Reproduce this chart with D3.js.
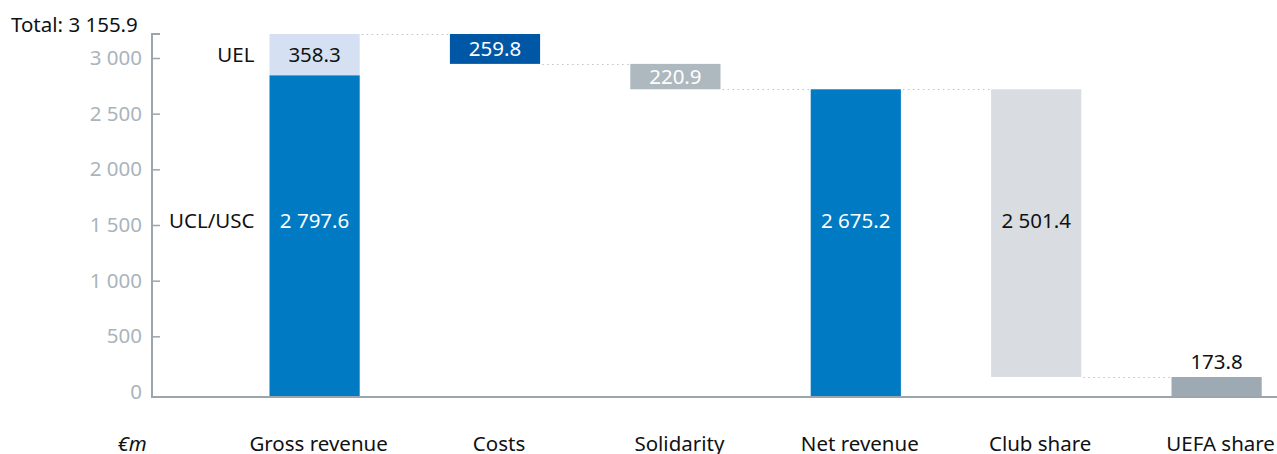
<!DOCTYPE html>
<html>
<head>
<meta charset="utf-8">
<script src="https://cdn.jsdelivr.net/npm/d3@7"></script>
<style>
  body { margin: 0; background: #fff; }
  text { font-family: "Noto Sans", "Open Sans", sans-serif; }
</style>
</head>
<body>
<div class="chart"></div>
<script>
var categories = ["Gross revenue", "Costs", "Solidarity", "Net revenue", "Club share", "UEFA share"];
var grossParts = ["UCL/USC", "UEL"];
var grossValues = [2797.6, 358.3];
var stepValues = [259.8, 220.9, 2675.2, 2501.4, 173.8];
var stepKinds = ["down", "down", "total", "down", "total"];
var yTicks = [0, 500, 1000, 1500, 2000, 2500, 3000];

var stepColors = ["#0057a5", "#aeb8bf", "#007ac2", "#d9dde1", "#9eaab3"];
var stepText = ["#fff", "#fff", "#fff", "#111", "#111"];

var width = 1277, height = 454, fs = 20.5;
var total = d3.sum(grossValues);

var loc = d3.formatLocale({ decimal: ".", thousands: " ", grouping: [3], currency: ["", ""] });
var fmt = loc.format(",.1f"),
    tickFmt = loc.format(",d");

var svg = d3.select(".chart").append("svg")
    .attr("width", width)
    .attr("height", height);

var x = d3.scaleBand()
    .domain(categories)
    .range([269.5, 1261.7])
    .paddingInner(0.5)
    .paddingOuter(0);

// bars
var y = d3.scaleLinear().domain([0, total]).range([397, 34]);
// printed tick scale (slightly off from the bars in the original)
var yAxis = d3.scaleLinear().domain([0, 3000]).range([392, 58]);

// build waterfall steps
var level = total, steps = [];
stepValues.forEach(function (v, i) {
    var s;
    if (stepKinds[i] == "down") {
        s = { lo: level - v, hi: level };
        level -= v;
    } else {
        s = { lo: 0, hi: level };
    }
    s.cat = categories[i + 1];
    s.value = v;
    s.i = i;
    steps.push(s);
});

// connectors
var levels = [total].concat(steps.map(function (s, i) {
    return stepKinds[i] == "down" ? s.lo : s.hi;
}));
var conn = [];
for (var i = 0; i < categories.length - 1; i++) {
    conn.push({ from: categories[i], to: categories[i + 1], v: levels[i] });
}
svg.append("g").selectAll("line")
    .data(conn)
    .enter().append("line")
    .attr("x1", function (d) { return x(d.from) + x.bandwidth() + 2; })
    .attr("x2", function (d) { return x(d.to); })
    .attr("y1", function (d) { return Math.round(y(d.v)) + 0.5; })
    .attr("y2", function (d) { return Math.round(y(d.v)) + 0.5; })
    .attr("stroke", "#bcc3c8")
    .attr("stroke-width", 1.2)
    .attr("stroke-dasharray", "1.5,3.5");

// gross revenue stack
var gx = x(categories[0]);
var stack = [
    { name: grossParts[0], lo: 0, hi: grossValues[0], fill: "#007ac2", text: "#fff" },
    { name: grossParts[1], lo: grossValues[0], hi: total, fill: "#d5e1f3", text: "#111" }
];
svg.append("g").selectAll("rect")
    .data(stack)
    .enter().append("rect")
    .attr("x", gx)
    .attr("width", x.bandwidth())
    .attr("y", function (d) { return y(d.hi); })
    .attr("height", function (d) { return y(d.lo) - y(d.hi); })
    .attr("fill", function (d) { return d.fill; });

svg.append("g").selectAll("rect")
    .data(steps)
    .enter().append("rect")
    .attr("x", function (d) { return x(d.cat); })
    .attr("width", x.bandwidth())
    .attr("y", function (d) { return y(d.hi); })
    .attr("height", function (d) { return y(d.lo) - y(d.hi); })
    .attr("fill", function (d) { return stepColors[d.i]; });

// value labels
var midY = 221;
function labelY(lo, hi) {
    return (y(lo) - y(hi)) > 120 ? midY : (y(lo) + y(hi)) / 2;
}
svg.append("g").selectAll("text")
    .data(stack)
    .enter().append("text")
    .attr("x", gx + x.bandwidth() / 2)
    .attr("y", function (d) { return labelY(d.lo, d.hi); })
    .attr("dy", "0.36em")
    .attr("text-anchor", "middle")
    .attr("font-size", fs)
    .attr("fill", function (d) { return d.text; })
    .text(function (d) { return fmt(d.hi - d.lo); });

svg.append("g").selectAll("text")
    .data(stack)
    .enter().append("text")
    .attr("x", gx - 15)
    .attr("y", function (d) { return labelY(d.lo, d.hi); })
    .attr("dy", "0.36em")
    .attr("text-anchor", "end")
    .attr("font-size", fs)
    .attr("fill", "#111")
    .text(function (d) { return d.name; });

svg.append("g").selectAll("text")
    .data(steps)
    .enter().append("text")
    .attr("x", function (d) { return x(d.cat) + x.bandwidth() / 2; })
    .attr("y", function (d) {
        var h = y(d.lo) - y(d.hi);
        if (h < 24) return y(d.hi) - 15;
        return labelY(d.lo, d.hi);
    })
    .attr("dy", "0.36em")
    .attr("text-anchor", "middle")
    .attr("font-size", fs)
    .attr("fill", function (d) {
        return (y(d.lo) - y(d.hi)) < 24 ? "#111" : stepText[d.i];
    })
    .text(function (d) { return fmt(d.value); });

// y axis
var ax = svg.append("g")
    .attr("transform", "translate(152,0)")
    .call(d3.axisLeft(yAxis).tickValues(yTicks).tickSize(-8).tickPadding(10).tickFormat(tickFmt));
ax.select(".domain").remove();
ax.selectAll("line").attr("stroke", "#9aa5ae").attr("stroke-width", 1.5)
    .filter(function (d) { return d == 0; }).remove();
ax.selectAll("text").attr("fill", "#a9b4bc").attr("font-size", fs)
    .attr("font-family", "Noto Sans, Open Sans, sans-serif");

svg.append("path")
    .attr("d", "M160," + y(total) + "H152V" + y(0) + "H" + width)
    .attr("fill", "none")
    .attr("stroke", "#9aa5ae")
    .attr("stroke-width", 2);

// category labels
svg.append("g").selectAll("text")
    .data(categories)
    .enter().append("text")
    .attr("x", function (d) { return x(d) + x.bandwidth() / 2 + 4; })
    .attr("y", 451)
    .attr("text-anchor", "middle")
    .attr("font-size", fs)
    .attr("fill", "#111")
    .text(function (d) { return d; });

svg.append("text")
    .attr("x", 132)
    .attr("y", 451)
    .attr("text-anchor", "middle")
    .attr("font-size", fs)
    .attr("font-style", "italic")
    .attr("fill", "#111")
    .text("€m");

svg.append("text")
    .attr("x", 11)
    .attr("y", 32)
    .attr("font-size", fs)
    .attr("fill", "#111")
    .text("Total: " + fmt(total));
</script>
</body>
</html>
